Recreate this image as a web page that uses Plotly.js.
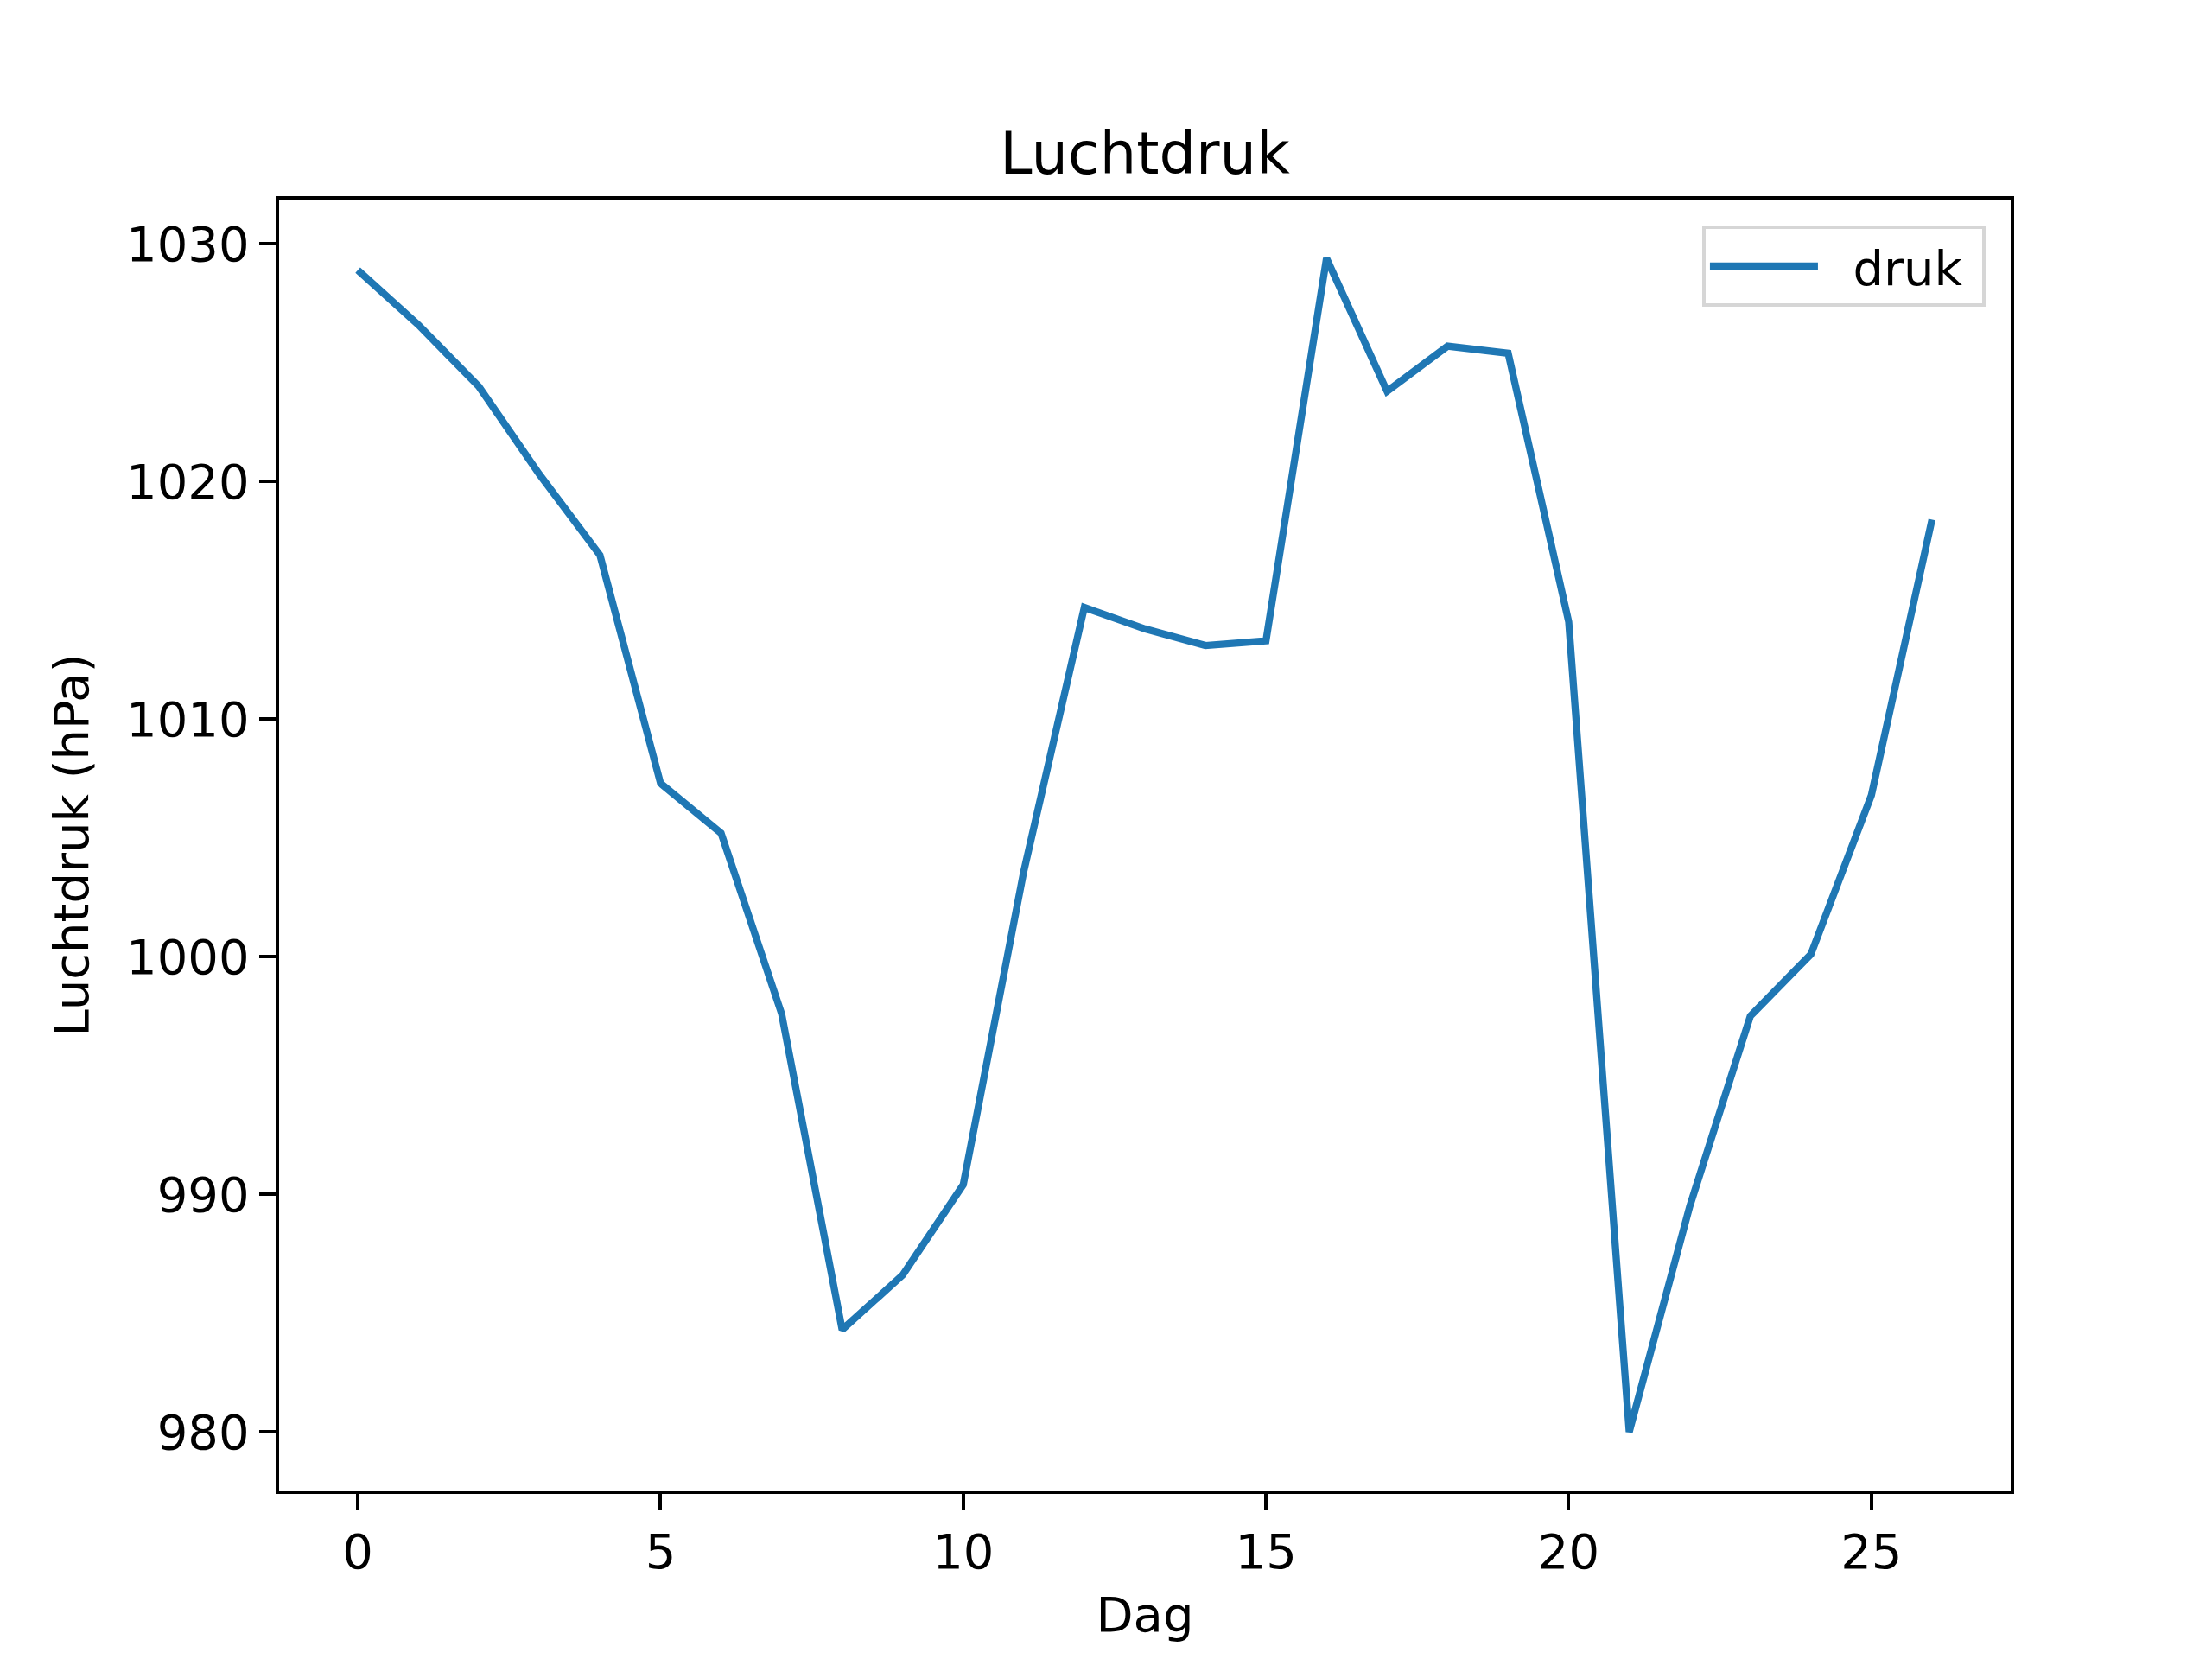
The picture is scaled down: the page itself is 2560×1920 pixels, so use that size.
<!DOCTYPE html>
<html>
<head>
<meta charset="utf-8">
<script src="https://cdn.plot.ly/plotly-3.0.1.min.js"></script>
<style>
  body { margin: 0; background: #fff; }
  #chart { width: 2560px; height: 1920px; }
</style>
</head>
<body>
<div id="chart"></div>
<script>
// dagen en luchtdruk (hPa)
const dagen = [0, 1, 2, 3, 4, 5, 6, 7, 8, 9, 10, 11, 12, 13, 14, 15, 16, 17, 18, 19, 20, 21, 22, 23, 24, 25, 26]
const druk = [1028.9, 1026.6, 1024.0, 1020.3, 1016.9, 1007.3, 1005.2, 997.6, 984.3, 986.6, 990.4, 1003.6,
    1014.7, 1013.8, 1013.1, 1013.3, 1029.4, 1023.8, 1025.7, 1025.4, 1014.1, 980.0, 989.5, 997.5, 1000.1, 1006.8, 1018.4]
const x_ticks = [0, 5, 10, 15, 20, 25]
const y_ticks = [980, 990, 1000, 1010, 1020, 1030]

const font = 'DejaVu Sans, sans-serif'

function axis(title, ticks, range) {
    return {
        title: {text: title, font: {family: font, size: 56, color: '#000'}},
        range: range,
        tickmode: 'array',
        tickvals: ticks,
        ticks: 'outside',
        ticklen: 19,
        tickwidth: 4.4,
        tickcolor: '#000',
        tickfont: {family: font, size: 56, color: '#000'},
        showline: true,
        mirror: true,
        linecolor: '#000',
        linewidth: 4.4,
        showgrid: false,
        zeroline: false,
    }
}

const xaxis = axis('Dag', x_ticks, [-1.3, 27.3])
xaxis.title.standoff = 22
const yaxis = axis('Luchtdruk (hPa)', y_ticks, [977.53, 1031.87])
yaxis.title.standoff = 26

Plotly.newPlot('chart', [{
    type: 'scatter',
    mode: 'lines',
    // spaties voor de afstand tussen lijn en tekst in de legenda
    name: '\u00a0\u00a0druk\u00a0',
    x: dagen,
    y: druk,
    line: {color: '#1f77b4', width: 8.3},
}], {
    width: 2560,
    height: 1920,
    paper_bgcolor: '#fff',
    plot_bgcolor: '#fff',
    margin: {l: 323, r: 233, t: 231, b: 195},
    title: {
        text: 'Luchtdruk',
        font: {family: font, size: 67, color: '#000'},
        x: 0.5, xref: 'paper',
        y: 1, yref: 'paper', yanchor: 'bottom',
        pad: {b: 30},
    },
    xaxis: xaxis,
    yaxis: yaxis,
    showlegend: true,
    legend: {
        x: 0.9855, xanchor: 'right',
        y: 0.98, yanchor: 'top',
        bgcolor: '#fff',
        bordercolor: '#d6d6d6',
        borderwidth: 4,
        font: {family: font, size: 56, color: '#000'},
        itemwidth: 125,
    },
}, {displayModeBar: false})
</script>
</body>
</html>
